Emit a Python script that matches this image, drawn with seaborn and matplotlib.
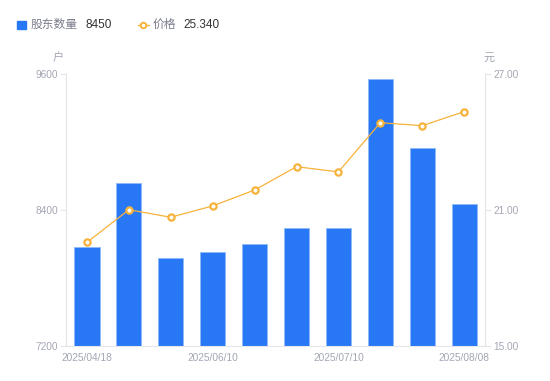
import numpy as np
import pandas as pd
import seaborn as sns
import matplotlib.pyplot as plt

# data
dates = ['2025/04/18', '2025/04/30', '2025/05/20', '2025/06/10', '2025/06/20',
         '2025/06/30', '2025/07/10', '2025/07/20', '2025/07/31', '2025/08/08']
holders = [8070, 8635, 7975, 8025, 8100, 8240, 8240, 9560, 8950, 8450]
price = [19.57, 21.01, 20.68, 21.18, 21.88, 22.91, 22.68, 24.85, 24.72, 25.34]
shown_ticks = ['2025/04/18', '2025/06/10', '2025/07/10', '2025/08/08']

BLUE = '#2878F5'
ORANGE = '#F7B23B'
GRID = '#E3E5EA'
TXT = '#A3A6B4'

sns.set_style('white')
plt.rcParams['font.family'] = ['Liberation Sans', 'Noto Sans CJK SC', 'DejaVu Sans']

df = pd.DataFrame({'date': dates, 'holders': holders, 'price': price})

fig = plt.figure(figsize=(5.5, 3.81), dpi=100)
ax = fig.add_axes([0.12, 0.0919, 0.762, 0.7139])

sns.barplot(data=df, x='date', y='holders', color=BLUE, saturation=1,
            width=0.6, ax=ax, edgecolor='#8FB8FA', linewidth=0.6)
ax.set_ylim(7200, 9600)
ax.set_yticks([7200, 8400, 9600])
ax.set_xlim(-0.5, len(dates) - 0.5)

ax2 = ax.twinx()
ax2.plot(np.arange(len(dates)), df['price'], color=ORANGE, lw=0.9,
         marker='o', ms=4.5, mfc='white', mec=ORANGE, mew=1.6)
ax2.set_ylim(15, 27)
ax2.set_yticks([15, 21, 27])
ax2.set_yticklabels(['15.00', '21.00', '27.00'])

ax.set_xticks([dates.index(d) for d in shown_ticks])
ax.set_xticklabels(shown_ticks)
ax.set_xlabel('')
ax.set_ylabel('')
ax2.set_ylabel('')

for a in (ax, ax2):
    for s in a.spines.values():
        s.set_visible(False)
    a.tick_params(colors=TXT, labelsize=7.3, length=0, pad=3)
ax.spines['left'].set_visible(True)
ax.spines['left'].set_color(GRID)
ax.spines['bottom'].set_visible(True)
ax.spines['bottom'].set_color(GRID)
ax2.spines['right'].set_visible(True)
ax2.spines['right'].set_color(GRID)
ax.tick_params(axis='y', length=4, width=0.8, color=GRID, pad=2)
ax2.tick_params(axis='y', length=4, width=0.8, color=GRID, pad=2)
ax.tick_params(axis='x', pad=5)

# unit labels
fig.text(0.106, 0.84, '户', color=TXT, fontsize=8, ha='center')
fig.text(0.89, 0.84, '元', color=TXT, fontsize=8, ha='center')

# legend row
fig.patches.append(plt.Rectangle((0.031, 0.923), 0.016, 0.023, color=BLUE,
                                 transform=fig.transFigure, figure=fig))
fig.text(0.055, 0.934, '股东数量', color='#7A7D8A', fontsize=8.5, va='center')
fig.text(0.155, 0.934, str(holders[-1]), color='#333333', fontsize=8.5, va='center')
fig.add_artist(plt.Line2D([0.250, 0.270], [0.934, 0.934], color=ORANGE, lw=1,
                          transform=fig.transFigure))
fig.add_artist(plt.Line2D([0.260], [0.934], marker='o', ms=4, mfc='white',
                          mec=ORANGE, mew=1.4, transform=fig.transFigure))
fig.text(0.278, 0.934, '价格', color='#7A7D8A', fontsize=8.5, va='center')
fig.text(0.333, 0.934, '%.3f' % price[-1], color='#333333', fontsize=8.5, va='center')

fig.savefig('out.png', dpi=100)
